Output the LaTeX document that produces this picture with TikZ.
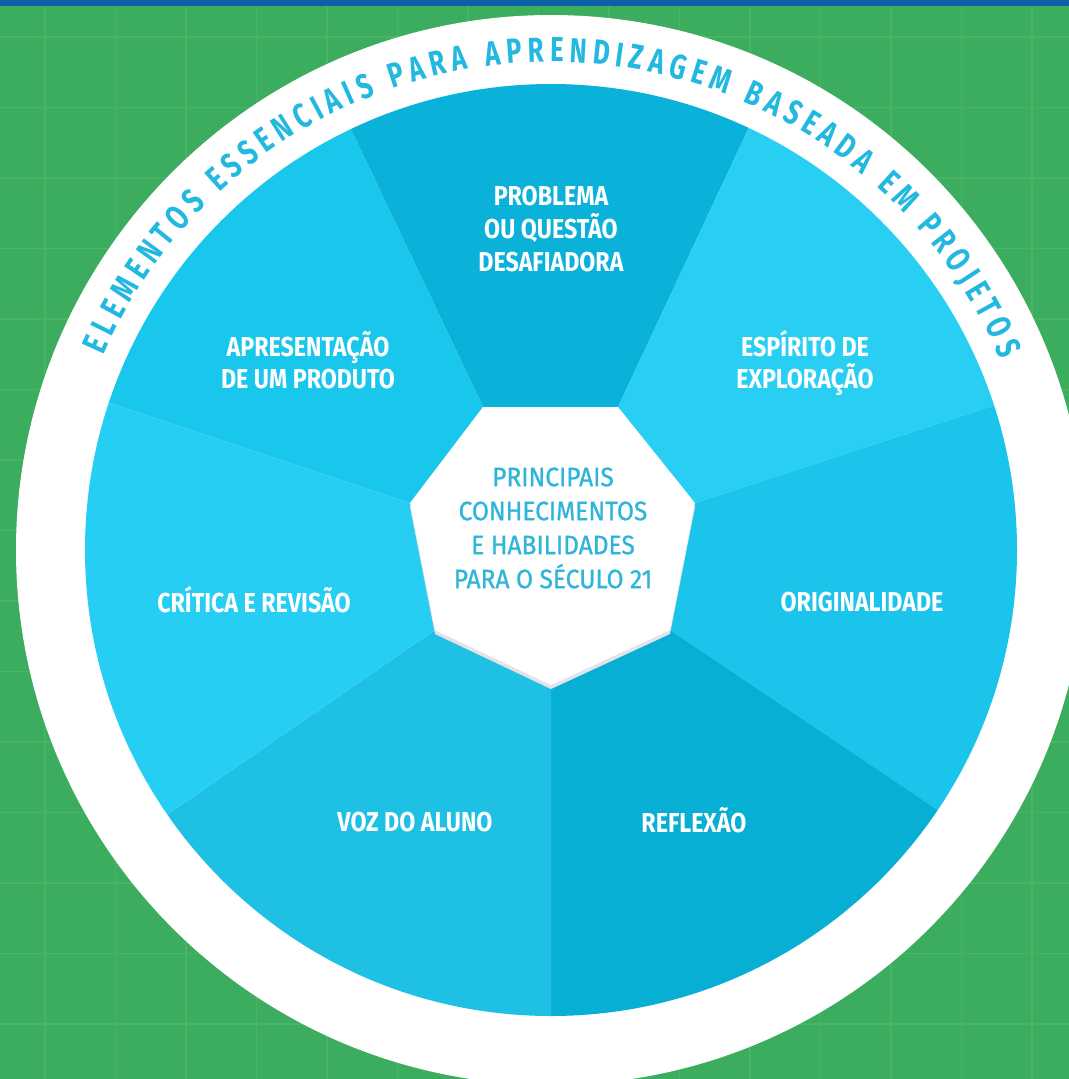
\documentclass[tikz,border=0pt]{standalone}
\usepackage{fontspec}
\usepackage{tikz}
\usetikzlibrary{calc,decorations.text}

\newfontfamily\secfont[FakeStretch=0.85]{Fira Sans}
\newfontfamily\hepfont[FakeStretch=0.92,FakeBold=0.8]{Fira Sans}
\newfontfamily\arcfont[FakeStretch=0.74]{Fira Sans}

\definecolor{bggreen}{HTML}{3CAD5E}
\definecolor{gridgreen}{HTML}{46B566}
\definecolor{topbar}{HTML}{0D5FA6}
\definecolor{secA}{HTML}{0AB2D9}
\definecolor{secB}{HTML}{29CFF3}
\definecolor{secC}{HTML}{1BC4EA}
\definecolor{secD}{HTML}{07AFD5}
\definecolor{secE}{HTML}{1EC1E3}
\definecolor{secF}{HTML}{27CEF3}
\definecolor{secG}{HTML}{19C6EC}
\definecolor{arcblue}{HTML}{22B8E0}
\definecolor{hepblue}{HTML}{2FB4DA}
\definecolor{hepshadow}{HTML}{E6E2EA}

\tikzset{
  sectxt/.style={text=white, align=center, inner sep=0.75pt, font=\secfont\bfseries\fontsize{20.5}{24.4}\selectfont},
  heptxt/.style={text=hepblue, align=center, inner sep=0.75pt, font=\hepfont\fontsize{20}{25.5}\selectfont},
  gridline/.style={gridgreen, line width=0.9pt}
}

\begin{document}
\begin{tikzpicture}[x=0.75pt,y=0.75pt,yscale=-1,xscale=1]
\useasboundingbox (0,0) rectangle (1069,1079);
\clip (0,0) rectangle (1069,1079);

%Shape: Rectangle [background]
\fill[bggreen] (0,0) rectangle (1069,1079);
%Straight Lines [grid]
\foreach \i in {0,...,14} {
  \draw[gridline] ({45+70.5*\i},0) -- ({45+70.5*\i},1079);
  \draw[gridline] (0,{37+70.5*\i}) -- (1069,{37+70.5*\i});
}
%Shape: Rectangle [top bar]
\fill[topbar] (0,0) rectangle (1069,6);

%Shape: Circle [white ring]
\coordinate (c) at (551,550);
\fill[white] (c) circle (535);

% heptagon corners
\coordinate (vTL) at (483,407);
\coordinate (vTR) at (618,407);
\coordinate (vR) at (695,503);
\coordinate (vBR) at (670,630);
\coordinate (vB) at (551,685);
\coordinate (vBL) at (435,630);
\coordinate (vL) at (410,503);

%Shape: Sectors
\begin{scope}
\clip (c) circle (466);
\fill[secA] (c) -- ($(c)!5!(vTL)$) -- ($(c)!5!(vTR)$) -- cycle;
\fill[secB] (c) -- ($(c)!5!(vTR)$) -- ($(c)!5!(vR)$) -- cycle;
\fill[secC] (c) -- ($(c)!5!(vR)$) -- ($(c)!5!(vBR)$) -- cycle;
\fill[secD] (c) -- ($(c)!5!(vBR)$) -- ($(c)!5!(vB)$) -- cycle;
\fill[secE] (c) -- ($(c)!5!(vB)$) -- ($(c)!5!(vBL)$) -- cycle;
\fill[secF] (c) -- ($(c)!5!(vBL)$) -- ($(c)!5!(vL)$) -- cycle;
\fill[secG] (c) -- ($(c)!5!(vL)$) -- ($(c)!5!(vTL)$) -- cycle;
\end{scope}

%Shape: Heptagon
\fill[hepshadow, transform canvas={yshift=-3pt}] (vTL) -- (vTR) -- (vR) -- (vBR) -- (vB) -- (vBL) -- (vL) -- cycle;
\fill[white] (vTL) -- (vTR) -- (vR) -- (vBR) -- (vB) -- (vBL) -- (vL) -- cycle;

% Curved Text
\begin{scope}[shift={(551,550)},yscale=-1]
\path[decorate, decoration={text along path, text align=fit to path, text color=arcblue,
  text={|\arcfont\bfseries\fontsize{26}{26}\selectfont|ELEMENTOS ESSENCIAIS PARA APRENDIZAGEM BASEADA EM PROJETOS}}]
  (156.5:488) arc[start angle=156.5, end angle=23, radius=488];
\end{scope}

% Text Node
\node[sectxt] (problema) at (551,229) {PROBLEMA\\OU QUESTÃO\\DESAFIADORA};
% Text Node
\node[sectxt] (espirito) at (805,363) {ESPÍRITO DE\\EXPLORAÇÃO};
% Text Node
\node[sectxt] (originalidade) at (862,602) {ORIGINALIDADE};
% Text Node
\node[sectxt] (reflexao) at (694,820) {REFLEXÃO};
% Text Node
\node[sectxt] (voz) at (415,822) {VOZ DO ALUNO};
% Text Node
\node[sectxt] (critica) at (254,600) {CRÍTICA E REVISÃO};
% Text Node
\node[sectxt] (apresentacao) at (308,360) {APRESENTAÇÃO\\DE UM PRODUTO};
% Text Node
\node[heptxt] (principais) at (553,528) {PRINCIPAIS\\CONHECIMENTOS\\E HABILIDADES\\PARA O SÉCULO 21};

\end{tikzpicture}
\end{document}
